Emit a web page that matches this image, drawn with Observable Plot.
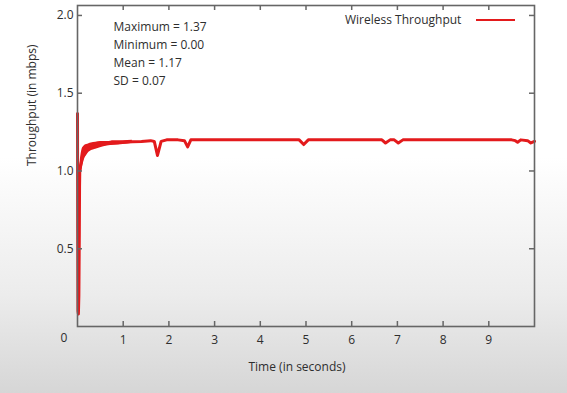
<!DOCTYPE html>
<html>
<head>
<meta charset="utf-8">
<script src="https://cdn.jsdelivr.net/npm/d3@7"></script>
<script src="https://cdn.jsdelivr.net/npm/@observablehq/plot@0.6"></script>
<style>
  html, body { margin: 0; padding: 0; }
  body {
    width: 567px; height: 393px; overflow: hidden;
    background: linear-gradient(to bottom, #ffffff 0%, #ffffff 40%, #ececec 75%, #d6d6d6 100%);
    font-family: "Open Sans", sans-serif;
  }
  #wrap { position: relative; width: 567px; height: 393px; }
  #legend {
    position: absolute; left: 345px; top: 11px;
    font: 12px "Open Sans", sans-serif; color: #2e2e2e;
    display: flex; align-items: center;
  }
  #legend .swatch { display: inline-block; width: 39px; height: 2px; background: #e31a1c; margin-left: 15px; }
</style>
</head>
<body>
<div id="wrap"></div>
<script>
// time in seconds
const times = [
  0.00, 0.005, 0.01, 0.02, 0.03, 0.04, 0.045, 0.05, 0.07, 0.10,
  0.14, 0.20, 0.28, 0.38, 0.50,
  0.60, 0.70, 0.85, 1.00, 1.20, 1.40, 1.60, 1.68, 1.75, 1.83, 1.95,
  2.20, 2.34, 2.41, 2.48, 2.70, 3.00, 3.50, 4.00, 4.50, 4.85, 4.95, 5.05,
  5.50, 6.00, 6.50, 6.66, 6.74, 6.84, 6.93, 7.02, 7.12, 7.50, 8.00, 8.50,
  9.00, 9.50, 9.58, 9.63, 9.70, 9.85, 9.92, 10.00
];
// throughput in mbps
const throughput = [
  1.37, 0.60, 0.10, 0.08, 0.20, 0.60, 0.90, 1.00, 1.04, 1.08,
  1.11, 1.135, 1.15, 1.16, 1.17,
  1.175, 1.178, 1.182, 1.185, 1.188, 1.19, 1.195, 1.19, 1.10, 1.19, 1.20,
  1.20, 1.195, 1.155, 1.20, 1.20, 1.20, 1.20, 1.20, 1.20, 1.20, 1.17, 1.20,
  1.20, 1.20, 1.20, 1.20, 1.18, 1.20, 1.20, 1.18, 1.20, 1.20, 1.20, 1.20,
  1.20, 1.20, 1.195, 1.185, 1.20, 1.195, 1.18, 1.19
];
// noisy band around the ramp-up (lower / upper envelope)
const bandTimes = [0.04, 0.06, 0.08, 0.10, 0.13, 0.16, 0.20, 0.25, 0.30, 0.40, 0.50, 0.65, 0.80, 1.00, 1.20];
const bandLow   = [0.80, 0.92, 0.98, 1.01, 1.05, 1.08, 1.10, 1.12, 1.13, 1.14, 1.15, 1.16, 1.165, 1.17, 1.178];
const bandHigh  = [0.95, 1.06, 1.11, 1.14, 1.155, 1.165, 1.17, 1.175, 1.18, 1.185, 1.19, 1.19, 1.195, 1.195, 1.198];

const xTicks = [1, 2, 3, 4, 5, 6, 7, 8, 9];
const yTicks = [0.5, 1.0, 1.5, 2.0];
const statsLines = ["Maximum = 1.37", "Minimum = 0.00", "Mean = 1.17", "SD = 0.07"];
const seriesName = "Wireless Throughput";
const xLabel = "Time (in seconds)";
const yLabel = "Throughput (in mbps)";

const data = times.map((t, i) => ({t, v: throughput[i]}));
const band = bandTimes.map((t, i) => ({t, lo: bandLow[i], hi: bandHigh[i]}));

const W = 567, H = 393;
const mL = 77, mR = 33, mT = 5, mB = 67;
const fw = W - mL - mR, fh = H - mT - mB;
const tick = 5;
const axisColor = "#666";
const textColor = "#2e2e2e";
const red = "#e31a1c";

const chart = Plot.plot({
  width: W, height: H,
  marginLeft: mL, marginRight: mR, marginTop: mT, marginBottom: mB,
  style: {background: "transparent", fontFamily: "Open Sans, sans-serif", fontSize: "12px", color: textColor},
  x: {domain: [0, 10]},
  y: {domain: [0, 2.064]},
  marks: [
    Plot.areaY(band, {x: "t", y1: "lo", y2: "hi", fill: red, curve: "monotone-x"}),
    Plot.line(data, {x: "t", y: "v", stroke: red, strokeWidth: 3, strokeLinejoin: "round"}),
    Plot.frame({stroke: axisColor, strokeWidth: 1.6}),
    // inward ticks on all four sides
    Plot.tickX(xTicks, {x: d => d, insetTop: fh - tick, stroke: axisColor, strokeWidth: 1.5}),
    Plot.tickX(xTicks, {x: d => d, insetBottom: fh - tick, stroke: axisColor, strokeWidth: 1.5}),
    Plot.tickY(yTicks, {y: d => d, insetRight: fw - tick, stroke: axisColor, strokeWidth: 1.5}),
    Plot.tickY(yTicks, {y: d => d, insetLeft: fw - tick, stroke: axisColor, strokeWidth: 1.5}),
    Plot.axisX({ticks: xTicks, tickFormat: d => String(d), tickSize: 0, tickPadding: 9, label: null, fill: textColor, fontSize: 12}),
    Plot.axisY({ticks: yTicks, tickFormat: d3.format(".1f"), tickSize: 0, tickPadding: 4, label: null, fill: textColor, fontSize: 12}),
    Plot.text(["0"], {frameAnchor: "bottom-left", dx: -17, dy: 15, fill: textColor, fontSize: 12}),
    Plot.text([xLabel], {frameAnchor: "bottom", dx: -9, dy: 44, fill: textColor, fontSize: 12}),
    Plot.text([yLabel], {frameAnchor: "left", dx: -45, rotate: -90, fill: textColor, fontSize: 12}),
    Plot.text([statsLines.join("\n")], {frameAnchor: "top-left", textAnchor: "start", lineAnchor: "top", dx: 36, dy: 13, lineHeight: 1.5, fill: textColor, fontSize: 12})
  ]
});

const wrap = document.getElementById("wrap");
wrap.appendChild(chart);
const legend = document.createElement("div");
legend.id = "legend";
legend.innerHTML = `<span>${seriesName}</span><span class="swatch"></span>`;
wrap.appendChild(legend);
</script>
</body>
</html>
